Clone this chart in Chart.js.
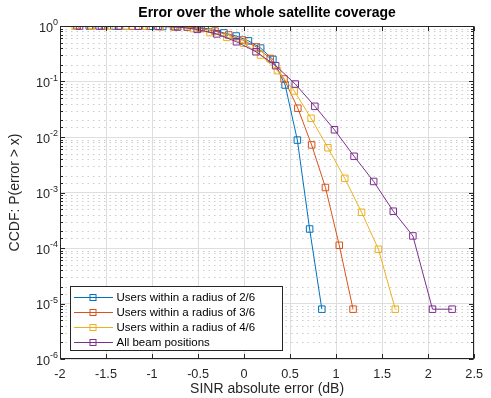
<!DOCTYPE html>
<html>
<head>
<meta charset="utf-8">
<script src="https://cdn.jsdelivr.net/npm/chart.js@4.4.1/dist/chart.umd.min.js"></script>
<style>
  html, body { margin: 0; padding: 0; background: #fff; }
  #wrap { width: 491px; height: 398px; }
</style>
</head>
<body>
<div id="wrap"><canvas id="ccdfChart" width="491" height="398"></canvas></div>
<script>
// CCDF of the SINR absolute error
const seriesLabels = [
  'Users within a radius of 2/6',
  'Users within a radius of 3/6',
  'Users within a radius of 4/6',
  'All beam positions',
];
const seriesColors = ['#0072BD', '#D95319', '#EDB120', '#7E2F8E'];

const radius2X = [-1.815, -1.682, -1.549, -1.416, -1.283, -1.150, -1.017, -0.884, -0.751, -0.618, -0.485, -0.352, -0.219, -0.086, 0.047, 0.180, 0.313, 0.446, 0.579, 0.712, 0.845];
const radius2Y = [1.0, 1.0, 0.999, 0.998, 0.996, 0.993, 0.988, 0.98, 0.97, 0.955, 0.93, 0.88, 0.75, 0.66, 0.54, 0.40, 0.25, 0.0865, 0.0088, 2.2e-4, 7.9e-6];

const radius3X = [-1.816, -1.666, -1.516, -1.366, -1.216, -1.066, -0.916, -0.766, -0.616, -0.466, -0.316, -0.166, -0.016, 0.134, 0.284, 0.434, 0.584, 0.734, 0.884, 1.034, 1.184];
const radius3Y = [1.0, 1.0, 0.999, 0.997, 0.995, 0.99, 0.983, 0.972, 0.955, 0.90, 0.81, 0.69, 0.56, 0.42, 0.26, 0.111, 0.033, 0.0072, 0.00123, 1.12e-4, 7.9e-6];

const radius4X = [-1.834, -1.651, -1.468, -1.285, -1.102, -0.919, -0.736, -0.553, -0.370, -0.187, -0.004, 0.179, 0.362, 0.545, 0.728, 0.911, 1.094, 1.277, 1.460, 1.643];
const radius4Y = [1.0, 0.999, 0.998, 0.995, 0.99, 0.98, 0.96, 0.90, 0.76, 0.625, 0.49, 0.30, 0.157, 0.0675, 0.0217, 0.0064, 0.0018, 4.4e-4, 9.5e-5, 7.9e-6];

const allBeamsX = [-1.787, -1.574, -1.361, -1.148, -0.935, -0.722, -0.509, -0.296, -0.083, 0.130, 0.343, 0.556, 0.769, 0.982, 1.195, 1.408, 1.621, 1.834, 2.047, 2.260];
const allBeamsY = [1.0, 0.999, 0.997, 0.993, 0.985, 0.96, 0.87, 0.72, 0.52, 0.344, 0.193, 0.09, 0.0357, 0.0135, 0.00449, 0.00158, 4.6e-4, 1.65e-4, 7.9e-6, 7.9e-6];

const xRange = [-2, 2.5];
const xStep = 0.5;
const yRange = [1e-6, 1];

const FONT = "'Liberation Sans', Arial, Helvetica, sans-serif";

function isDecade(v) {
  const l = Math.log10(v);
  return Math.abs(l - Math.round(l)) < 1e-9;
}

function toPoints(xs, ys) {
  return xs.map((x, i) => ({ x, y: ys[i] }));
}

// minor dotted grid, axes box with inward ticks, 10^n labels, legend in the lower left corner
const matlabAxes = {
  id: 'matlabAxes',
  beforeDatasetsDraw(chart) {
    const { ctx, chartArea: a, scales: { y } } = chart;
    ctx.save();
    ctx.strokeStyle = '#cccccc';
    ctx.lineWidth = 1;
    ctx.setLineDash([1.5, 4]);
    y.ticks.forEach((t) => {
      if (isDecade(t.value)) return;
      const py = Math.round(y.getPixelForValue(t.value)) + 0.5;
      ctx.beginPath();
      ctx.moveTo(a.left, py);
      ctx.lineTo(a.right, py);
      ctx.stroke();
    });
    ctx.restore();
  },
  afterDraw(chart) {
    const { ctx, chartArea: a, scales: { x, y } } = chart;
    const L = Math.round(a.left) + 0.5, R = Math.round(a.right) - 0.5;
    const T = Math.round(a.top) + 0.5, B = Math.round(a.bottom) - 0.5;
    ctx.save();
    ctx.strokeStyle = '#262626';
    ctx.lineWidth = 1;
    ctx.beginPath();
    x.ticks.forEach((t) => {
      const px = Math.round(x.getPixelForValue(t.value)) + 0.5;
      ctx.moveTo(px, B); ctx.lineTo(px, B - 4.5);
      ctx.moveTo(px, T); ctx.lineTo(px, T + 4.5);
    });
    y.ticks.forEach((t) => {
      const py = Math.round(y.getPixelForValue(t.value)) + 0.5;
      const len = isDecade(t.value) ? 4.5 : 2.5;
      ctx.moveTo(L, py); ctx.lineTo(L + len, py);
      ctx.moveTo(R, py); ctx.lineTo(R - len, py);
    });
    ctx.stroke();
    ctx.strokeRect(L, T, R - L, B - T);

    // y tick labels as 10 with a raised exponent
    ctx.fillStyle = '#262626';
    ctx.textBaseline = 'alphabetic';
    ctx.textAlign = 'left';
    y.ticks.forEach((t) => {
      if (!isDecade(t.value)) return;
      const py = y.getPixelForValue(t.value);
      const exp = String(Math.round(Math.log10(t.value)));
      ctx.font = '9px ' + FONT;
      const ew = ctx.measureText(exp).width;
      ctx.font = '12.7px ' + FONT;
      const bw = ctx.measureText('10').width;
      const right = a.left - 2;
      ctx.fillText('10', right - ew - bw, py + 5.5);
      ctx.font = '9px ' + FONT;
      ctx.fillText(exp, right - ew, py - 1);
    });

    // legend
    const lx = L + 10, ly = B - 72, lw = 212, lh = 64;
    ctx.fillStyle = '#fff';
    ctx.fillRect(lx, ly, lw, lh);
    ctx.strokeStyle = '#262626';
    ctx.strokeRect(lx, ly, lw, lh);
    ctx.font = '11.5px ' + FONT;
    ctx.textBaseline = 'middle';
    ctx.textAlign = 'left';
    chart.data.datasets.forEach((ds, i) => {
      const cy = Math.round(ly + 10 + i * 15.3) + 0.5;
      ctx.strokeStyle = ds.borderColor;
      ctx.beginPath();
      ctx.moveTo(lx + 3.5, cy);
      ctx.lineTo(lx + 42.5, cy);
      ctx.stroke();
      ctx.strokeRect(lx + 19.5, cy - 3, 6, 6);
      ctx.fillStyle = '#000';
      ctx.fillText(ds.label, lx + 46, cy);
    });
    ctx.restore();
  },
};

const xSeries = [radius2X, radius3X, radius4X, allBeamsX];
const ySeries = [radius2Y, radius3Y, radius4Y, allBeamsY];

const datasets = seriesLabels.map((label, i) => ({
  label,
  data: toPoints(xSeries[i], ySeries[i]),
  borderColor: seriesColors[i],
  backgroundColor: seriesColors[i],
  borderWidth: 1,
  tension: 0,
  pointStyle: 'rect',
  pointRadius: 4.6,
  pointBorderWidth: 1,
  pointBorderColor: seriesColors[i],
  pointBackgroundColor: 'rgba(0,0,0,0)',
  order: seriesLabels.length - i,
}));

Chart.defaults.font.family = FONT;
Chart.defaults.color = '#262626';

new Chart(document.getElementById('ccdfChart'), {
  type: 'line',
  data: { datasets },
  options: {
    responsive: false,
    animation: false,
    events: [],
    layout: { padding: { top: 0, right: 9, bottom: 0, left: 0 } },
    plugins: {
      legend: { display: false },
      tooltip: { enabled: false },
      title: {
        display: true,
        text: 'Error over the whole satellite coverage',
        fullSize: false,
        color: '#000',
        font: { size: 14, weight: 'bold' },
        padding: { top: 5, bottom: 4.2 },
      },
    },
    scales: {
      x: {
        type: 'linear',
        min: xRange[0],
        max: xRange[1],
        ticks: {
          stepSize: xStep,
          padding: 8,
          font: { size: 12.7 },
          color: '#262626',
          maxRotation: 0,
          callback: (v) => String(Math.round(v * 10) / 10),
        },
        grid: { color: '#dedede', drawTicks: false },
        border: { display: false },
        title: { display: true, text: 'SINR absolute error (dB)', font: { size: 14 }, color: '#262626', padding: { top: 0, bottom: 0 } },
        afterFit(scale) { scale.height = 39; },
      },
      y: {
        type: 'logarithmic',
        min: yRange[0],
        max: yRange[1],
        ticks: {
          autoSkip: false,
          padding: 3,
          font: { size: 12.7 },
          callback: () => '',
        },
        grid: {
          drawTicks: false,
          color: (c) => (c.tick && isDecade(c.tick.value) ? '#dedede' : 'rgba(0,0,0,0)'),
        },
        border: { display: false },
        title: { display: true, text: 'CCDF: P(error > x)', font: { size: 14 }, color: '#262626', padding: { top: 6.6, bottom: 0 } },
        afterFit(scale) { scale.width = 60; },
      },
    },
  },
  plugins: [matlabAxes],
});
</script>
</body>
</html>
